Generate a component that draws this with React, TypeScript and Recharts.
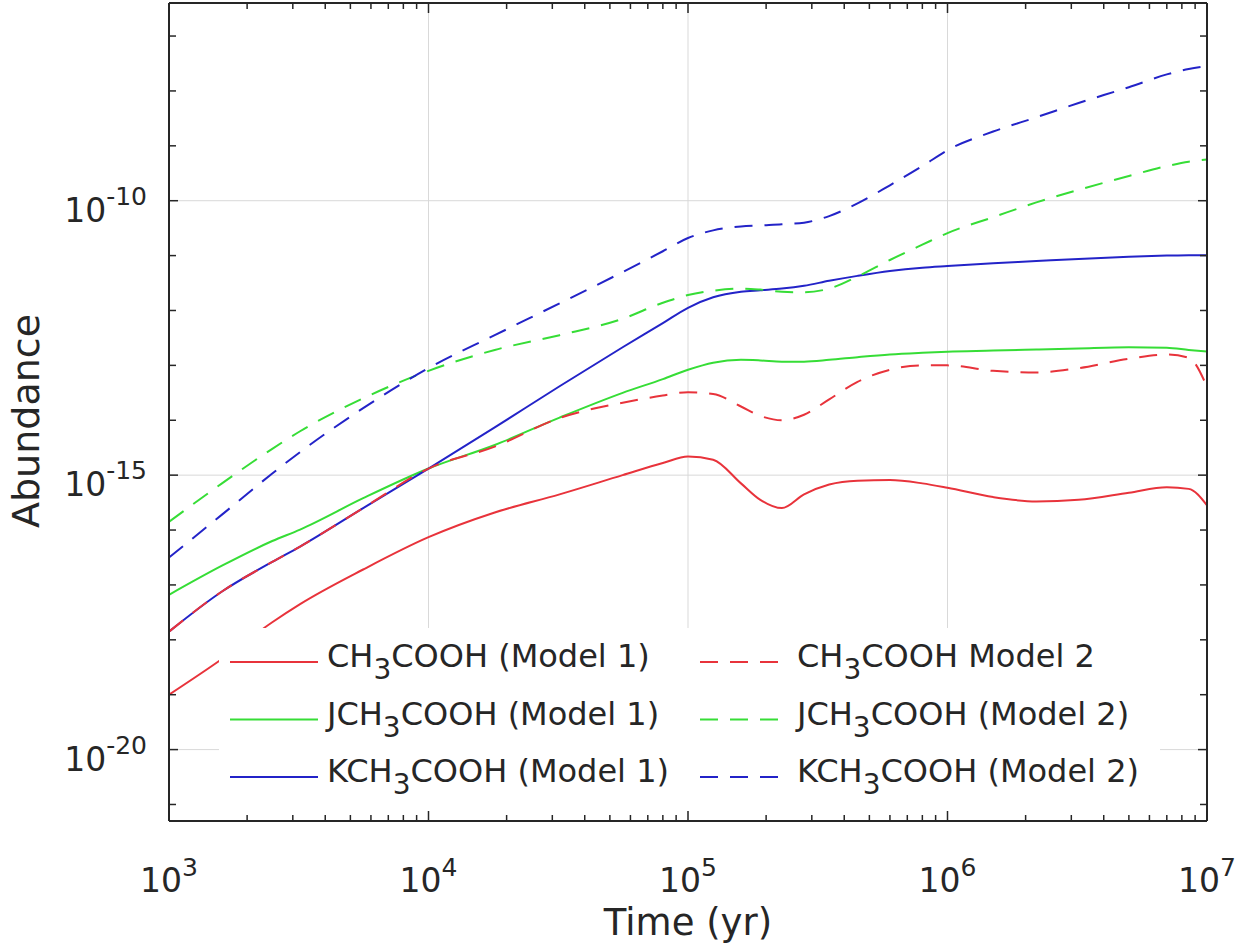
import { LineChart, Line, XAxis, YAxis, ReferenceLine, Legend } from 'recharts'

// time grid (yr)
const times = [
  1000, 1600, 2500, 3200, 5600, 10000, 18000, 32000, 56000, 80000, 100000, 125000, 160000, 190000,
  230000, 280000, 350000, 450000, 600000, 800000, 1000000, 1500000, 2200000, 3200000, 5000000,
  7000000, 8500000, 10000000,
]

// abundances
const ch3coohM1 = [
  1.0e-19, 4.47e-19, 2.09e-18, 4.47e-18, 1.91e-17, 7.41e-17, 2.09e-16, 4.47e-16, 1.0e-15, 1.66e-15,
  2.19e-15, 1.91e-15, 7.08e-16, 3.55e-16, 2.51e-16, 4.47e-16, 6.76e-16, 7.94e-16, 8.13e-16, 7.08e-16,
  5.89e-16, 3.98e-16, 3.31e-16, 3.55e-16, 4.79e-16, 6.03e-16, 5.62e-16, 2.82e-16,
]
const ch3coohM2 = [
  1.41e-18, 7.59e-18, 2.63e-17, 5.01e-17, 2.51e-16, 1.32e-15, 3.31e-15, 1.1e-14, 2.09e-14, 2.82e-14,
  3.24e-14, 3.02e-14, 1.78e-14, 1.2e-14, 1.0e-14, 1.26e-14, 2.4e-14, 5.01e-14, 8.32e-14, 1.0e-13,
  1.0e-13, 7.94e-14, 7.41e-14, 8.91e-14, 1.32e-13, 1.58e-13, 1.38e-13, 4.07e-14,
]
const jch3coohM1 = [
  6.61e-18, 2.24e-17, 6.31e-17, 1.02e-16, 3.8e-16, 1.32e-15, 3.55e-15, 1.12e-14, 3.16e-14, 5.62e-14,
  8.32e-14, 1.12e-13, 1.26e-13, 1.23e-13, 1.17e-13, 1.17e-13, 1.26e-13, 1.41e-13, 1.58e-13, 1.7e-13,
  1.78e-13, 1.86e-13, 1.95e-13, 2.04e-13, 2.14e-13, 2.09e-13, 1.91e-13, 1.78e-13,
]
const jch3coohM2 = [
  1.41e-16, 7.08e-16, 3.02e-15, 6.31e-15, 2.51e-14, 7.94e-14, 1.91e-13, 3.55e-13, 7.08e-13, 1.38e-12,
  1.91e-12, 2.29e-12, 2.51e-12, 2.4e-12, 2.19e-12, 2.14e-12, 2.51e-12, 4.17e-12, 8.32e-12, 1.58e-11,
  2.57e-11, 5.01e-11, 9.33e-11, 1.58e-10, 2.82e-10, 4.27e-10, 5.13e-10, 5.62e-10,
]
const kch3coohM1 = [
  1.41e-18, 7.59e-18, 2.63e-17, 5.01e-17, 2.51e-16, 1.32e-15, 7.41e-15, 4.17e-14, 2.14e-13, 5.89e-13,
  1.12e-12, 1.74e-12, 2.19e-12, 2.34e-12, 2.51e-12, 2.82e-12, 3.47e-12, 4.27e-12, 5.25e-12, 6.03e-12,
  6.46e-12, 7.24e-12, 7.94e-12, 8.71e-12, 9.55e-12, 1.0e-11, 1.02e-11, 1.02e-11,
]
const kch3coohM2 = [
  3.16e-17, 1.91e-16, 1.07e-15, 2.63e-15, 1.66e-14, 8.91e-14, 3.55e-13, 1.35e-12, 5.01e-12, 1.2e-11,
  2.09e-11, 2.88e-11, 3.39e-11, 3.55e-11, 3.72e-11, 3.98e-11, 5.25e-11, 8.91e-11, 1.91e-10, 4.27e-10,
  8.32e-10, 1.82e-9, 3.31e-9, 6.03e-9, 1.17e-8, 2.0e-8, 2.51e-8, 2.82e-8,
]

const xMajor = [1e3, 1e4, 1e5, 1e6, 1e7]
const xGrid = [1e4, 1e5, 1e6]
const yDecades = [
  1e-21, 1e-20, 1e-19, 1e-18, 1e-17, 1e-16, 1e-15, 1e-14, 1e-13, 1e-12, 1e-11, 1e-10, 1e-9, 1e-8, 1e-7,
]
const yGrid = [1e-20, 1e-15, 1e-10]

const RED = '#e8333b'
const GREEN = '#36dd36'
const BLUE = '#2323c8'
const AXIS = '#262626'
const TEXT = '#262626'
const GRID = '#d9d9d9'
const FONT = '"DejaVu Sans", sans-serif'

// legend order (row by row, two columns)
const series = [
  { key: 'ch3_1', label: 'CH_3COOH (Model 1)', color: RED, dashed: false, values: ch3coohM1 },
  { key: 'ch3_2', label: 'CH_3COOH Model 2', color: RED, dashed: true, values: ch3coohM2 },
  { key: 'j_1', label: 'JCH_3COOH (Model 1)', color: GREEN, dashed: false, values: jch3coohM1 },
  { key: 'j_2', label: 'JCH_3COOH (Model 2)', color: GREEN, dashed: true, values: jch3coohM2 },
  { key: 'k_1', label: 'KCH_3COOH (Model 1)', color: BLUE, dashed: false, values: kch3coohM1 },
  { key: 'k_2', label: 'KCH_3COOH (Model 2)', color: BLUE, dashed: true, values: kch3coohM2 },
]
const drawOrder = ['j_1', 'k_1', 'ch3_1', 'j_2', 'k_2', 'ch3_2']

const rows = times.map((t, i) => {
  const row: Record<string, number> = { t }
  series.forEach((s) => {
    row[s.key] = s.values[i]
  })
  return row
})

const xTicks = xMajor.flatMap((d) => (d < 1e7 ? [d, 2 * d, 3 * d, 4 * d, 5 * d, 6 * d, 7 * d, 8 * d, 9 * d] : [d]))

const DASH = '18 12'

const isDecade = (v: number) => {
  const l = Math.log10(v)
  return Math.abs(l - Math.round(l)) < 1e-6
}

const BottomTick = (props: any) => {
  const { x, y, payload } = props
  const v = payload.value
  const major = isDecade(v)
  return (
    <g>
      <line x1={x} x2={x} y1={y} y2={y - (major ? 10 : 6)} stroke={AXIS} strokeWidth={1.5} />
      {major && (
        <text x={x} y={y + 71} textAnchor="middle" fontFamily={FONT} fontSize={33} fill={TEXT}>
          10
          <tspan fontSize={25} dy={-16}>
            {Math.round(Math.log10(v))}
          </tspan>
        </text>
      )}
    </g>
  )
}

const TopTick = (props: any) => {
  const { x, y, payload } = props
  const major = isDecade(payload.value)
  return <line x1={x} x2={x} y1={y} y2={y + (major ? 10 : 6)} stroke={AXIS} strokeWidth={1.5} />
}

const LeftTick = (props: any) => {
  const { x, y, payload } = props
  const e = Math.round(Math.log10(payload.value))
  const major = e % 5 === 0
  return (
    <g>
      <line x1={x} x2={x + (major ? 9 : 7)} y1={y} y2={y} stroke={AXIS} strokeWidth={1.5} />
      {major && (
        <text x={x - 22} y={y + 21} textAnchor="end" fontFamily={FONT} fontSize={33} fill={TEXT}>
          10
          <tspan fontSize={25} dy={-17}>
            {e}
          </tspan>
        </text>
      )}
    </g>
  )
}

const RightTick = (props: any) => {
  const { x, y, payload } = props
  const major = Math.round(Math.log10(payload.value)) % 5 === 0
  return <line x1={x} x2={x - (major ? 9 : 7)} y1={y} y2={y} stroke={AXIS} strokeWidth={1.5} />
}

const LegendBox = () => (
  <svg width={941} height={183} style={{ display: 'block' }}>
    {series.map((s, i) => {
      const col = i % 2
      const row = Math.floor(i / 2)
      const lx = col === 0 ? 11 : 481
      const ly = 34 + row * 57.5
      const [pre, post] = s.label.split('_3')
      return (
        <g key={s.key}>
          <line
            x1={lx}
            x2={lx + 88}
            y1={ly}
            y2={ly}
            stroke={s.color}
            strokeWidth={2}
            strokeDasharray={s.dashed ? DASH : undefined}
          />
          <text x={lx + 97} y={ly + 5} fontFamily={FONT} fontSize={32} fill={TEXT}>
            {pre}
            <tspan dy={12} fontSize={28}>
              3
            </tspan>
            <tspan dy={-12}>{post}</tspan>
          </text>
        </g>
      )
    })}
  </svg>
)

const App = () => {
  return (
    <div style={{ position: 'absolute', left: 0, top: 0 }}>
      <LineChart width={1246} height={945} data={rows} margin={{ top: 2, right: 38, left: 0, bottom: 0 }}>
        <XAxis
          xAxisId="b"
          dataKey="t"
          type="number"
          scale="log"
          domain={[1e3, 1e7]}
          allowDataOverflow
          ticks={xTicks}
          interval={0}
          tick={<BottomTick />}
          tickLine={false}
          tickSize={0}
          tickMargin={0}
          height={124}
          axisLine={{ stroke: AXIS, strokeWidth: 2 }}
          label={{
            value: 'Time (yr)',
            position: 'insideBottom',
            offset: 10,
            fontSize: 37,
            fontFamily: FONT,
            fill: TEXT,
          }}
        />
        <XAxis
          xAxisId="t"
          orientation="top"
          dataKey="t"
          type="number"
          scale="log"
          domain={[1e3, 1e7]}
          allowDataOverflow
          ticks={xTicks}
          interval={0}
          tick={<TopTick />}
          tickLine={false}
          tickSize={0}
          tickMargin={0}
          height={1}
          axisLine={{ stroke: AXIS, strokeWidth: 2 }}
        />
        <YAxis
          yAxisId="l"
          type="number"
          scale="log"
          domain={[5.0e-22, 4.0e-7]}
          allowDataOverflow
          ticks={yDecades}
          interval={0}
          tick={<LeftTick />}
          tickLine={false}
          tickSize={0}
          tickMargin={0}
          width={169}
          axisLine={{ stroke: AXIS, strokeWidth: 2 }}
          label={{
            value: 'Abundance',
            angle: -90,
            position: 'insideLeft',
            offset: 26,
            dy: 9,
            fontSize: 38,
            fontFamily: FONT,
            fill: TEXT,
            style: { textAnchor: 'middle' },
          }}
        />
        <YAxis
          yAxisId="r"
          orientation="right"
          type="number"
          scale="log"
          domain={[5.0e-22, 4.0e-7]}
          allowDataOverflow
          ticks={yDecades}
          interval={0}
          tick={<RightTick />}
          tickLine={false}
          tickSize={0}
          tickMargin={0}
          width={1}
          axisLine={{ stroke: AXIS, strokeWidth: 2 }}
        />
        {xGrid.map((v) => (
          <ReferenceLine key={'gx' + v} x={v} xAxisId="b" yAxisId="l" stroke={GRID} strokeWidth={1} />
        ))}
        {yGrid.map((v) => (
          <ReferenceLine key={'gy' + v} y={v} xAxisId="b" yAxisId="l" stroke={GRID} strokeWidth={1} />
        ))}
        {drawOrder.map((k) => {
          const s = series.find((q) => q.key === k)!
          return (
            <Line
              key={k}
              xAxisId="b"
              yAxisId="l"
              type="monotone"
              dataKey={k}
              stroke={s.color}
              strokeWidth={2}
              strokeDasharray={s.dashed ? DASH : undefined}
              dot={false}
              activeDot={false}
              isAnimationActive={false}
            />
          )
        })}
        <Legend
          layout="horizontal"
          verticalAlign="middle"
          align="center"
          wrapperStyle={{ left: 219, top: 628, width: 941, height: 183, background: '#fff' }}
          content={() => <LegendBox />}
        />
      </LineChart>
    </div>
  )
}

export default App
